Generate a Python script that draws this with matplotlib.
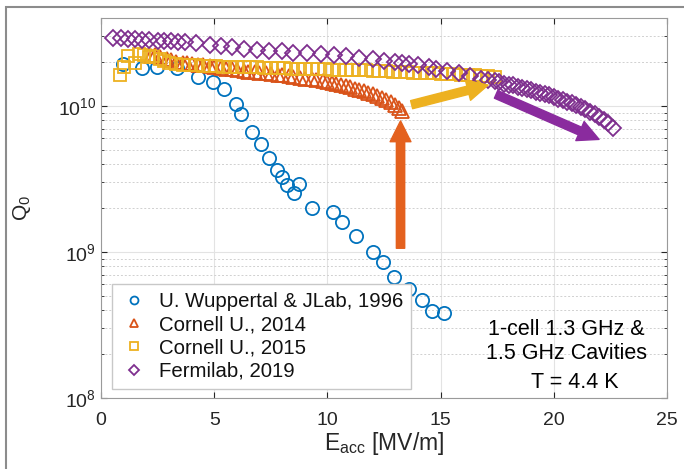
import numpy as np
import matplotlib
matplotlib.use('Agg')
import matplotlib.pyplot as plt
from matplotlib.patches import Rectangle

plt.rcParams['font.family'] = ['Liberation Sans', 'DejaVu Sans']
plt.rcParams['mathtext.fontset'] = 'custom'
plt.rcParams['mathtext.rm'] = 'Liberation Sans'
plt.rcParams['mathtext.it'] = 'Liberation Sans'

# ---- data ----
# U. Wuppertal & JLab, 1996
wup_E = [0.98, 1.80, 2.46, 3.37, 4.27, 4.93, 5.45, 5.95, 6.17, 6.68, 7.05, 7.43, 7.76, 7.98,
         8.20, 8.52, 8.76, 9.31, 10.23, 10.63, 11.26, 12.00, 12.47, 12.95, 13.60, 14.19, 14.63, 15.15]
wup_Q = [1.93e10, 1.83e10, 1.86e10, 1.83e10, 1.59e10, 1.45e10, 1.30e10, 1.03e10, 8.8e9, 6.6e9,
         5.47e9, 4.43e9, 3.65e9, 3.25e9, 2.88e9, 2.55e9, 2.91e9, 1.99e9, 1.87e9, 1.61e9, 1.29e9,
         9.95e8, 8.55e8, 6.75e8, 5.61e8, 4.69e8, 3.94e8, 3.84e8]

# Cornell U., 2014
c14_E = [2.2, 2.4, 2.6, 2.9, 3.1, 3.3, 3.6, 3.8, 4.0, 4.3, 4.5, 4.8, 5.0, 5.3, 5.5, 5.8, 6.0,
         6.3, 6.5, 6.8, 7.0, 7.3, 7.5, 7.8, 8.0, 8.3, 8.5, 8.8, 9.0, 9.3, 9.5, 9.8, 10.0, 10.2,
         10.4, 10.6, 10.8, 11.0, 11.2, 11.4, 11.6, 11.8, 12.0, 12.2, 12.4, 12.6, 12.8, 13.0,
         13.15, 13.3]
c14_Q = [2.20e10, 2.22e10, 2.15e10, 2.08e10, 2.05e10, 2.0e10, 1.98e10, 1.96e10, 1.94e10, 1.91e10,
         1.90e10, 1.87e10, 1.85e10, 1.82e10, 1.80e10, 1.78e10, 1.76e10, 1.74e10, 1.72e10, 1.71e10,
         1.69e10, 1.67e10, 1.66e10, 1.64e10, 1.62e10, 1.60e10, 1.58e10, 1.56e10, 1.54e10, 1.52e10,
         1.50e10, 1.47e10, 1.45e10, 1.43e10, 1.41e10, 1.39e10, 1.36e10, 1.34e10, 1.31e10, 1.28e10,
         1.26e10, 1.23e10, 1.20e10, 1.17e10, 1.13e10, 1.10e10, 1.06e10, 1.01e10, 9.7e9, 9.3e9]

# Cornell U., 2015
c15_E = [0.84, 1.0, 1.2, 1.5, 1.7, 1.9, 2.1, 2.3, 2.6, 2.8, 3.0, 3.3, 3.6, 3.9, 4.2, 4.5, 4.8,
         5.1, 5.4, 5.7, 6.0, 6.3, 6.6, 6.9, 7.2, 7.5, 7.8, 8.1, 8.4, 8.7, 9.0, 9.3, 9.6, 9.9,
         10.2, 10.5, 10.8, 11.1, 11.4, 11.7, 12.0, 12.3, 12.6, 12.9, 13.2, 13.5, 13.8, 14.1,
         14.4, 14.7, 15.0, 15.3, 15.6, 15.9, 16.2, 16.5, 16.8, 17.1, 17.4]
c15_Q = [1.63e10, 1.85e10, 2.18e10, 1.98e10, 2.25e10, 2.24e10, 2.15e10, 2.20e10, 2.08e10, 2.02e10,
         1.98e10, 1.95e10, 1.92e10, 1.90e10, 1.90e10, 1.88e10, 1.87e10, 1.87e10, 1.86e10, 1.86e10,
         1.85e10, 1.85e10, 1.84e10, 1.84e10, 1.83e10, 1.82e10, 1.82e10, 1.81e10, 1.80e10, 1.80e10,
         1.79e10, 1.79e10, 1.78e10, 1.78e10, 1.77e10, 1.77e10, 1.76e10, 1.76e10, 1.75e10, 1.75e10,
         1.74e10, 1.74e10, 1.73e10, 1.72e10, 1.71e10, 1.70e10, 1.69e10, 1.68e10, 1.68e10, 1.67e10,
         1.66e10, 1.66e10, 1.65e10, 1.64e10, 1.63e10, 1.62e10, 1.61e10, 1.60e10, 1.58e10]

# Fermilab, 2019
fnal_E = [0.53, 0.9, 1.2, 1.5, 1.8, 2.1, 2.5, 2.8, 3.1, 3.4, 3.7, 4.2, 4.8, 5.3, 5.8, 6.3,
          6.9, 7.4, 8.0, 8.5, 9.1, 9.7, 10.3, 10.8, 11.4, 12.0, 12.5, 13.0, 13.3, 13.6, 14.0,
          14.5, 14.8, 15.3, 15.8, 16.3, 16.8, 17.1, 17.4, 17.6, 17.8, 18.0, 18.2, 18.4, 18.6,
          18.8, 19.0, 19.2, 19.4, 19.6, 19.8, 20.0, 20.2, 20.4, 20.6, 20.8, 21.0, 21.2, 21.4,
          21.6, 21.8, 22.0, 22.2, 22.4, 22.6]
fnal_Q = [2.92e10, 2.90e10, 2.86e10, 2.88e10, 2.84e10, 2.82e10, 2.80e10, 2.78e10, 2.80e10, 2.74e10,
          2.72e10, 2.68e10, 2.62e10, 2.58e10, 2.52e10, 2.47e10, 2.43e10, 2.39e10, 2.36e10, 2.32e10,
          2.31e10, 2.28e10, 2.22e10, 2.18e10, 2.12e10, 2.08e10, 2.03e10, 1.99e10, 1.97e10, 1.94e10,
          1.90e10, 1.84e10, 1.80e10, 1.74e10, 1.67e10, 1.60e10, 1.54e10, 1.50e10, 1.47e10, 1.45e10,
          1.42e10, 1.40e10, 1.38e10, 1.35e10, 1.33e10, 1.30e10, 1.28e10, 1.25e10, 1.23e10, 1.20e10,
          1.18e10, 1.15e10, 1.12e10, 1.10e10, 1.07e10, 1.04e10, 1.01e10, 9.8e9, 9.5e9, 9.1e9,
          8.8e9, 8.4e9, 8.0e9, 7.6e9, 7.1e9]

# arrows: (start E, start Q, end E, end Q)
arrow_orange = (13.23, 1.06e9, 13.23, 7.9e9)
arrow_yellow = (13.72, 1.02e10, 17.1, 1.39e10)
arrow_purple = (17.45, 1.20e10, 22.0, 5.9e9)

blue = '#0072BD'
orange = '#D95319'
yellow = '#EDB120'
purple = '#7E2F8E'

fig = plt.figure(figsize=(6.84, 4.69), dpi=100)
ax = fig.add_axes([101/684, 1 - 398/469, 566/684, 380/469])

# outer frame round the figure
fig.patches.append(Rectangle((6/684, -0.1), 1.2, 1 - 7/469 + 0.1, transform=fig.transFigure,
                             fill=False, edgecolor='#8c8c8c', linewidth=1.5))

ax.plot(wup_E, wup_Q, 'o', mfc='none', mec=blue, ms=9.5, mew=1.3, label='U. Wuppertal & JLab, 1996')
ax.plot(c14_E, c14_Q, '^', mfc='none', mec=orange, ms=10, mew=1.3, label='Cornell U., 2014')
ax.plot(c15_E, c15_Q, 's', mfc='none', mec=yellow, ms=8.5, mew=1.3, label='Cornell U., 2015')
ax.plot(fnal_E, fnal_Q, 'D', mfc='none', mec=purple, ms=8.5, mew=1.3, label='Fermilab, 2019')

for (x0, y0, x1, y1), col in [(arrow_orange, '#E4611E'), (arrow_yellow, yellow), (arrow_purple, '#8A2B9E')]:
    ax.annotate('', xy=(x1, y1), xytext=(x0, y0),
                arrowprops=dict(arrowstyle='simple,head_width=0.75,head_length=0.75,tail_width=0.3',
                                color=col, mutation_scale=20, shrinkA=0, shrinkB=0))

ax.set_yscale('log')
ax.set_xlim(0, 25)
ax.set_ylim(1e8, 4e10)
ax.set_xticks([0, 5, 10, 15, 20, 25])
ax.set_yticks([1e8, 1e9, 1e10])

ax.grid(True, which='major', color='#e3e3e3', linewidth=0.8, linestyle='-')
ax.grid(True, which='minor', axis='y', color='#d0d0d0', linewidth=0.7, linestyle=(0, (2, 2)))
ax.set_axisbelow(True)

ax.tick_params(which='both', direction='in', top=True, right=True, colors='#262626',
               labelsize=14, length=4)
ax.tick_params(which='minor', length=2.5)
ax.tick_params(axis='x', pad=10)
for s in ax.spines.values():
    s.set_color('#9a9a9a')
    s.set_linewidth(0.8)

ax.set_xlabel('E$_\\mathregular{acc}$ [MV/m]', fontsize=16.5, color='#262626', labelpad=1)
ax.set_ylabel('Q$_\\mathregular{0}$', fontsize=15, color='#262626', labelpad=18)

leg = ax.legend(loc='lower left', bbox_to_anchor=(0.019, 0.024), borderaxespad=0, fontsize=14.7,
                markerscale=0.6, labelspacing=0.2, handletextpad=0.5, handlelength=1.4,
                fancybox=False, framealpha=1, edgecolor='#c8c8c8', borderpad=0.4)
for t in leg.get_texts():
    t.set_color('#111111')

ax.text(0.8216, 0.179, '1-cell 1.3 GHz &', transform=ax.transAxes, ha='center', va='center', fontsize=15.5)
ax.text(0.8216, 0.118, '1.5 GHz Cavities', transform=ax.transAxes, ha='center', va='center', fontsize=15.5)
ax.text(0.8375, 0.040, 'T = 4.4 K', transform=ax.transAxes, ha='center', va='center', fontsize=15.5)

fig.savefig('out.png', dpi=100)
